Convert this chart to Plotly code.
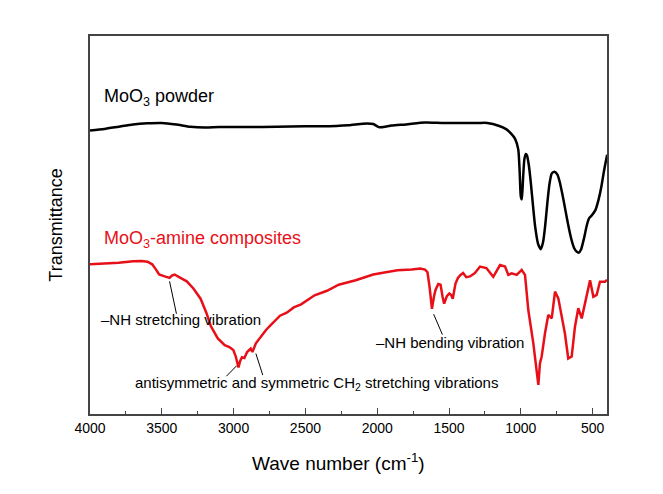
import plotly.graph_objects as go

# MoO3 powder spectrum (wavenumber cm^-1, transmittance a.u.)
moo3_wn = [4000, 3900, 3800, 3700, 3600, 3500, 3400, 3300, 3200, 3100, 2900, 2700, 2500, 2388, 2200, 2100,
           2028, 1990, 1956, 1900, 1800, 1667, 1550, 1450, 1300, 1234,
           1150, 1100, 1066, 1040, 1018, 1008, 1000, 993, 985, 975, 965, 957, 945, 930, 915, 900, 880, 861,
           845, 830, 815, 800, 785, 765, 745, 730, 710, 690, 670, 650, 630, 610, 596, 580, 560, 540, 524,
           505, 480, 460, 440, 420, 399]
moo3_t = [75.0, 75.4, 76.0, 76.6, 76.9, 77.0, 76.6, 76.0, 75.8, 75.9, 75.9, 76.0, 76.1, 76.1, 76.4, 76.8,
          76.7, 75.9, 75.9, 76.3, 76.6, 77.1, 77.0, 77.0, 77.0, 77.0,
          76.2, 75.3, 74.1, 72.8, 70.0, 64.0, 57.5, 56.8, 62.0, 67.5, 68.8, 68.4, 66.0, 61.0, 55.0, 49.5, 45.0, 43.6,
          45.5, 50.0, 56.0, 61.0, 63.6, 64.1, 63.3, 61.5, 58.0, 54.0, 50.0, 46.5, 44.0, 42.9, 42.7, 43.6, 46.5, 50.0, 51.8,
          52.6, 54.0, 56.5, 60.0, 64.5, 68.6]

# MoO3-amine composites spectrum
comp_wn = [4000, 3900, 3800, 3700, 3639, 3600, 3567, 3540, 3519, 3480, 3446, 3430, 3411, 3370, 3326, 3280,
           3230, 3190, 3158, 3110, 3062, 3030, 3002, 2985, 2966, 2955, 2942, 2925, 2906, 2881, 2869, 2845,
           2810, 2773, 2730, 2677, 2630, 2581, 2530, 2436, 2350, 2268, 2150, 2028, 1940, 1859, 1760, 1700,
           1667, 1650, 1635, 1619, 1605, 1594, 1575, 1559, 1545, 1534, 1515, 1498, 1485, 1474, 1455, 1438,
           1420, 1402, 1380, 1354, 1320, 1284, 1240, 1192, 1145, 1110, 1087, 1064, 1029, 994, 971,
           948, 913, 890, 878, 867, 855, 832, 809, 785, 762, 739, 716, 693, 670, 646, 623, 600, 576,
           541, 518, 495, 472, 449, 414, 400]
comp_t = [39.6, 39.8, 40.0, 40.4, 40.5, 40.3, 39.6, 38.2, 36.9, 36.4, 36.0, 36.6, 36.9, 36.0, 35.1, 33.2,
          30.5, 26.8, 23.2, 20.0, 18.2, 17.7, 16.9, 15.2, 12.3, 14.0, 15.0, 14.8, 16.4, 17.3, 16.4, 18.7,
          20.5, 22.3, 24.0, 26.0, 26.8, 28.2, 29.0, 31.4, 32.6, 34.2, 35.4, 36.9, 37.5, 38.0, 38.2, 38.5,
          38.2, 37.5, 33.5, 27.8, 31.0, 32.8, 34.4, 34.2, 31.0, 29.2, 31.2, 31.9, 31.5, 30.5, 34.5, 36.0,
          36.8, 37.3, 36.2, 36.4, 37.3, 39.0, 38.6, 36.3, 39.4, 39.0, 36.8, 37.2, 36.8, 38.1, 36.8,
          27.5, 18.7, 11.6, 7.7, 13.4, 15.2, 21.3, 26.2, 25.3, 32.4, 30.6, 25.7, 21.3, 14.7, 15.2, 23.1, 28.0, 25.3,
          31.9, 35.4, 31.0, 31.5, 35.0, 35.0, 35.5]

RED = "rgb(232,16,24)"

fig = go.Figure()
fig.add_trace(go.Scatter(x=moo3_wn, y=moo3_t, mode="lines", line_shape="spline",
                         line=dict(color="black", width=2.5, smoothing=0.6), showlegend=False))
fig.add_trace(go.Scatter(x=comp_wn, y=comp_t, mode="lines",
                         line=dict(color=RED, width=2.5), showlegend=False))

# leader lines: (x0, y0, x1, y1) in data units
leaders = [
    (3446, 35.1, 3398, 26.5),
    (2978, 12.8, 3050, 10.0),
    (2845, 16.0, 2797, 10.3),
    (1607, 26.4, 1546, 21.0),
]
for x0, y0, x1, y1 in leaders:
    fig.add_shape(type="line", x0=x0, y0=y0, x1=x1, y1=y1, xref="x", yref="y",
                  line=dict(color="black", width=1))

font_txt = "Liberation Sans, Arial, sans-serif"
labels = [
    ("MoO<sub>3</sub> powder", 3915, 83.6, "black", 18, "left"),
    ("MoO<sub>3</sub>-amine composites", 3915, 46.2, RED, 18, "left"),
    ("\u2013NH stretching vibration", 3363, 24.9, "black", 15, "center"),
    ("antisymmetric and symmetric CH<sub>2</sub> stretching vibrations", 2423, 8.0, "black", 15, "center"),
    ("\u2013NH bending vibration", 1493, 19.0, "black", 15, "center"),
]
for text, x, y, color, size, align in labels:
    fig.add_annotation(text=text, x=x, y=y, xref="x", yref="y", showarrow=False,
                       xanchor=align, yanchor="middle",
                       font=dict(color=color, size=size, family=font_txt))

# x-axis title (slightly left of centre in the reference)
fig.add_annotation(text="Wave number (cm<sup>-1</sup>)", xref="paper", yref="paper",
                   x=0.481, y=0, yshift=-48, xanchor="center", yanchor="middle",
                   showarrow=False, font=dict(size=19, family=font_txt, color="black"))

# page body has an 8px margin, so margins are offset to place the plot area at 90..607 x 36..414
fig.update_layout(
    width=663, height=494,
    margin=dict(l=82, r=64, t=28, b=88),
    paper_bgcolor="white", plot_bgcolor="white",
    font=dict(family=font_txt, color="black"),
)
fig.update_xaxes(
    range=[4000, 400], showgrid=False, zeroline=False, automargin=False,
    showline=True, linecolor="#444", linewidth=1.5, mirror=True,
    ticks="inside", ticklen=6, tickwidth=1.2, tickcolor="#444",
    tick0=0, dtick=500, tickfont=dict(size=14),
    minor=dict(ticks="inside", ticklen=3, dtick=250, tick0=0, tickcolor="#444", showgrid=False),
)
fig.update_yaxes(
    range=[0, 100], showgrid=False, zeroline=False, showticklabels=False, ticks="", automargin=False,
    showline=True, linecolor="#444", linewidth=1.5, mirror=True,
    title=dict(text="Transmittance", font=dict(size=18), standoff=21),
)

fig.write_html("out.html")
